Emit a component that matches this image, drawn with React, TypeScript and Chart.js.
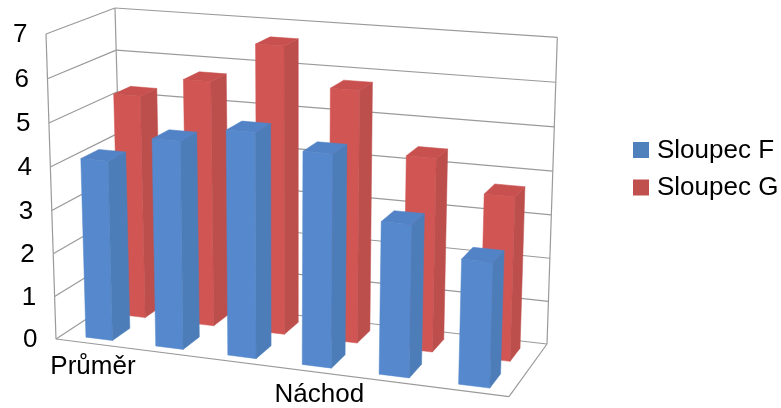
import React, { useEffect, useRef } from "react";
import { Chart, registerables } from "chart.js";

Chart.register(...registerables);

const categories = ["Průměr", "", "", "Náchod", "", ""];
const sloupecF = [4.16, 4.76, 5.1, 4.78, 3.4, 2.76];
const sloupecG = [5.27, 5.74, 6.67, 5.8, 4.42, 3.72];
const seriesNames = ["Sloupec F", "Sloupec G"];
const legendColors = ["#4f81bd", "#c0504d"];
const yTicks = { min: 0, max: 7, stepSize: 1 };

type P = [number, number];
const FLOOR: P[] = [[56, 339], [509, 396.7], [123, 295], [547, 344]];
const CEIL: P[] = [[46, 34], [519, 68.4], [115, 8], [557.3, 37.3]];
const PERSP_K = 0.97;
const FONT = '26px "Liberation Sans"';
const GRID = "#9a9a9a";
const DEPTHS = [[0.1, 0.36], [0.6, 0.86]];
const U_SHIFT = 0.0042;
const FACES = [
  { front: "#5588cc", side: "#4c7db8", top: "#5283c6" },
  { front: "#d15553", side: "#bc4e4c", top: "#c8514f" },
];

function homography(c: P[]) {
  const [[x0, y0], [x1, y1], [x3, y3], [x2, y2]] = c;
  const dx1 = x1 - x2, dx2 = x3 - x2, sx = x0 - x1 + x2 - x3;
  const dy1 = y1 - y2, dy2 = y3 - y2, sy = y0 - y1 + y2 - y3;
  const den = dx1 * dy2 - dx2 * dy1;
  const g = (sx * dy2 - dx2 * sy) / den;
  const h = (dx1 * sy - sx * dy1) / den;
  const a = x1 - x0 + g * x1, b = x3 - x0 + h * x3;
  const d = y1 - y0 + g * y1, e = y3 - y0 + h * y3;
  return (u: number, w: number): P => {
    const q = g * u + h * w + 1;
    return [(a * u + b * w + x0) / q, (d * u + e * w + y0) / q];
  };
}
const floorH = homography(FLOOR);
const ceilH = homography(CEIL);

function project(u: number, t: number, w: number): P {
  const s = (PERSP_K * t) / (1 + (PERSP_K - 1) * t);
  const a = floorH(u, w), b = ceilH(u, w);
  return [a[0] + (b[0] - a[0]) * s, a[1] + (b[1] - a[1]) * s];
}

function line(ctx: CanvasRenderingContext2D, a: P, b: P) {
  ctx.beginPath();
  ctx.moveTo(a[0], a[1]);
  ctx.lineTo(b[0], b[1]);
  ctx.stroke();
}

function poly(ctx: CanvasRenderingContext2D, pts: P[], color: string) {
  ctx.beginPath();
  pts.forEach((p, i) => (i ? ctx.lineTo(p[0], p[1]) : ctx.moveTo(p[0], p[1])));
  ctx.closePath();
  ctx.fillStyle = color;
  ctx.fill();
  ctx.strokeStyle = color;
  ctx.lineWidth = 0.5;
  ctx.stroke();
}

const perspectivePlugin = {
  id: "perspective",
  beforeDatasetsDraw(chart: any) {
    const { ctx, chartArea: area, scales } = chart;
    const yScale = scales.y, xScale = scales.x;
    const tOf = (px: number) => (area.bottom - px) / (area.bottom - area.top);
    const uOf = (px: number) => (px - area.left) / (area.right - area.left);

    ctx.save();
    // walls and grid
    ctx.strokeStyle = GRID;
    ctx.lineWidth = 1.2;
    yScale.ticks.forEach((tick: any) => {
      const t = tOf(yScale.getPixelForValue(tick.value));
      line(ctx, project(0, t, 0), project(0, t, 1));
      line(ctx, project(0, t, 1), project(1, t, 1));
    });
    line(ctx, project(0, 0, 0), project(0, 1, 0));
    line(ctx, project(0, 0, 1), project(0, 1, 1));
    line(ctx, project(1, 0, 1), project(1, 1, 1));
    line(ctx, project(0, 0, 0), project(1, 0, 0));
    line(ctx, project(1, 0, 0), project(1, 0, 1));

    // bars: back row first
    for (let ds = chart.data.datasets.length - 1; ds >= 0; ds--) {
      const meta = chart.getDatasetMeta(ds);
      const [w0, w1] = DEPTHS[ds];
      const col = FACES[ds];
      meta.data.forEach((el: any) => {
        const u0 = uOf(el.x - el.width / 2) + U_SHIFT, u1 = uOf(el.x + el.width / 2) + U_SHIFT;
        const tt = tOf(el.y), tb = tOf(el.base);
        poly(ctx, [project(u0, tb, w0), project(u1, tb, w0), project(u1, tt, w0), project(u0, tt, w0)], col.front);
        poly(ctx, [project(u1, tb, w0), project(u1, tb, w1), project(u1, tt, w1), project(u1, tt, w0)], col.side);
        poly(ctx, [project(u0, tt, w0), project(u1, tt, w0), project(u1, tt, w1), project(u0, tt, w1)], col.top);
      });
    }

    // axis text
    ctx.fillStyle = "#000";
    ctx.font = FONT;
    ctx.textAlign = "right";
    ctx.textBaseline = "middle";
    yScale.ticks.forEach((tick: any) => {
      const p = project(0, tOf(yScale.getPixelForValue(tick.value)), 0);
      ctx.fillText(String(tick.label), p[0] - 18.5, p[1] + 1);
    });
    ctx.textAlign = "center";
    ctx.textBaseline = "alphabetic";
    categories.forEach((_, i) => {
      const label = xScale.getLabelForValue(i);
      if (!label) return;
      const u = uOf(xScale.getPixelForValue(i));
      const p = project(u, 0, 0);
      ctx.fillText(label, p[0] + 1.25 + 15 * u, p[1] + 30.3);
    });

    // legend
    ctx.textAlign = "left";
    ctx.textBaseline = "middle";
    chart.data.datasets.forEach((d: any, i: number) => {
      const top = 142 + i * 37.5;
      ctx.fillStyle = d.backgroundColor;
      ctx.fillRect(633, top, 16, 16);
      ctx.fillStyle = "#000";
      ctx.fillText(d.label, 657, top + 8.5);
    });
    ctx.restore();
    return false;
  },
};

export default function App() {
  const ref = useRef<HTMLCanvasElement>(null);
  useEffect(() => {
    const chart = new Chart(ref.current!, {
      type: "bar",
      data: {
        labels: categories,
        datasets: [
          { label: seriesNames[0], data: sloupecF, backgroundColor: legendColors[0] },
          { label: seriesNames[1], data: sloupecG, backgroundColor: legendColors[1] },
        ],
      },
      options: {
        animation: false,
        responsive: false,
        categoryPercentage: 0.8,
        barPercentage: 0.48,
        layout: { padding: 0 },
        plugins: { legend: { display: false }, tooltip: { enabled: false } },
        scales: {
          x: { display: false, stacked: true, ticks: { autoSkip: false } },
          y: { display: false, min: yTicks.min, max: yTicks.max, ticks: { stepSize: yTicks.stepSize } },
        },
      } as any,
      plugins: [perspectivePlugin],
    });
    return () => chart.destroy();
  }, []);
  return (
    <div style={{ position: "absolute", left: 0, top: 0, background: "#fff" }}>
      <canvas ref={ref} width={781} height={408} style={{ display: "block" }} />
    </div>
  );
}
